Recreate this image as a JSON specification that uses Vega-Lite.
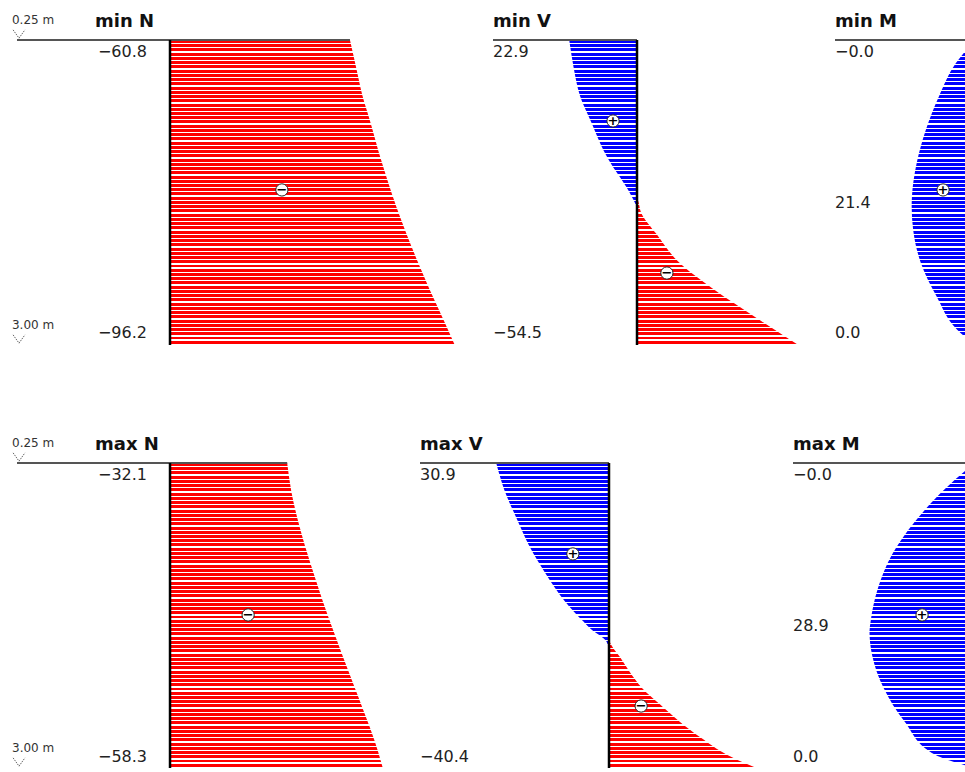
{
"$schema": "https://vega.github.io/schema/vega-lite/v6.json",
"padding": 0,
"background": "white",
"spacing": 0,
"datasets": {
"minN": [{"m":0.25,"v":-60.8},{"m":0.5,"v":-62.9},{"m":0.75,"v":-65.0},{"m":1.0,"v":-67.8},{"m":1.25,"v":-70.4},{"m":1.5,"v":-73.3},{"m":1.75,"v":-76.4},{"m":2.0,"v":-79.9},{"m":2.25,"v":-83.7},{"m":2.5,"v":-87.7},{"m":2.75,"v":-92.0},{"m":3.0,"v":-96.2}],
"minV": [{"part":"pos","m":0.25,"v":22.9},{"part":"pos","m":0.5,"v":21.4},{"part":"pos","m":0.75,"v":19.3},{"part":"pos","m":1.0,"v":15.3},{"part":"pos","m":1.25,"v":11.2},{"part":"pos","m":1.4,"v":8.0},{"part":"pos","m":1.5,"v":5.4},{"part":"pos","m":1.66,"v":1.8},{"part":"pos","m":1.78,"v":0},{"part":"pos","m":3.0,"v":0},
{"part":"neg","m":0.25,"v":0},{"part":"neg","m":1.64,"v":0},{"part":"neg","m":1.72,"v":-0.6},{"part":"neg","m":1.8,"v":-1.3},{"part":"neg","m":2.0,"v":-6.6},{"part":"neg","m":2.25,"v":-14.0},{"part":"neg","m":2.5,"v":-26.0},{"part":"neg","m":2.75,"v":-40.0},{"part":"neg","m":3.0,"v":-54.5}],
"minM": [{"m":0.25,"v":0},{"m":0.46,"v":6.5},{"m":0.76,"v":12.2},{"m":1.06,"v":16.6},{"m":1.36,"v":19.7},{"m":1.66,"v":21.3},{"m":1.75,"v":21.4},{"m":1.96,"v":20.9},{"m":2.26,"v":18.3},{"m":2.56,"v":13.0},{"m":2.86,"v":6.1},{"m":3.0,"v":0}],
"maxN": [{"m":0.25,"v":-32.1},{"m":0.5,"v":-33.2},{"m":0.75,"v":-34.9},{"m":1.0,"v":-37.0},{"m":1.25,"v":-39.4},{"m":1.5,"v":-41.9},{"m":1.75,"v":-44.6},{"m":2.0,"v":-47.4},{"m":2.25,"v":-50.3},{"m":2.5,"v":-53.2},{"m":2.75,"v":-56.0},{"m":3.0,"v":-58.3}],
"maxV": [{"part":"pos","m":0.25,"v":30.9},{"part":"pos","m":0.5,"v":28.6},{"part":"pos","m":0.75,"v":25.3},{"part":"pos","m":1.0,"v":21.8},{"part":"pos","m":1.25,"v":17.3},{"part":"pos","m":1.5,"v":12.0},{"part":"pos","m":1.68,"v":7.0},{"part":"pos","m":1.75,"v":4.9},{"part":"pos","m":1.86,"v":0.7},{"part":"pos","m":1.95,"v":0},{"part":"pos","m":3.0,"v":0},
{"part":"neg","m":0.25,"v":0},{"part":"neg","m":1.84,"v":0},{"part":"neg","m":1.9,"v":-0.8},{"part":"neg","m":2.0,"v":-3.0},{"part":"neg","m":2.13,"v":-5.6},{"part":"neg","m":2.28,"v":-9.1},{"part":"neg","m":2.43,"v":-14.1},{"part":"neg","m":2.58,"v":-19.3},{"part":"neg","m":2.73,"v":-25.3},{"part":"neg","m":2.88,"v":-32.3},{"part":"neg","m":3.0,"v":-40.4}],
"maxM": [{"m":0.25,"v":0},{"m":0.32,"v":2.7},{"m":0.48,"v":8.1},{"m":0.78,"v":16.5},{"m":1.08,"v":22.8},{"m":1.38,"v":26.6},{"m":1.68,"v":28.6},{"m":1.77,"v":28.9},{"m":1.98,"v":28.2},{"m":2.28,"v":25.0},{"m":2.58,"v":19.3},{"m":2.88,"v":10.9},{"m":2.975,"v":2.7},{"m":3.0,"v":0}],
"labels": [{"panel":"minN","at":"top","m":0.25,"text":"−60.8"},{"panel":"minN","at":"bottom","m":3.0,"text":"−96.2"},
{"panel":"minV","at":"top","m":0.25,"text":"22.9"},{"panel":"minV","at":"bottom","m":3.0,"text":"−54.5"},
{"panel":"minM","at":"top","m":0.25,"text":"−0.0"},{"panel":"minM","at":"max","m":1.72,"text":"21.4"},{"panel":"minM","at":"bottom","m":3.0,"text":"0.0"},
{"panel":"maxN","at":"top","m":0.25,"text":"−32.1"},{"panel":"maxN","at":"bottom","m":3.0,"text":"−58.3"},
{"panel":"maxV","at":"top","m":0.25,"text":"30.9"},{"panel":"maxV","at":"bottom","m":3.0,"text":"−40.4"},
{"panel":"maxM","at":"top","m":0.25,"text":"−0.0"},{"panel":"maxM","at":"max","m":1.72,"text":"28.9"},{"panel":"maxM","at":"bottom","m":3.0,"text":"0.0"}],
"signs": [{"panel":"minN","m":1.602,"v":-37.8,"sign":"−"},{"panel":"minV","m":0.98,"v":8.1,"sign":"+"},{"panel":"minV","m":2.351,"v":-10.1,"sign":"−"},{"panel":"minM","m":1.602,"v":10.8,"sign":"+"},
{"panel":"maxN","m":1.62,"v":-21.4,"sign":"−"},{"panel":"maxV","m":1.07,"v":9.9,"sign":"+"},{"panel":"maxV","m":2.441,"v":-8.8,"sign":"−"},{"panel":"maxM","m":1.62,"v":14.5,"sign":"+"}],
"titles": [{"panel":"minN","text":"min N"},{"panel":"minV","text":"min V"},{"panel":"minM","text":"min M"},{"panel":"maxN","text":"max N"},{"panel":"maxV","text":"max V"},{"panel":"maxM","text":"max M"}],
"levels": [{"m":0.25,"text":"0.25 m"},{"m":3.0,"text":"3.00 m"}]
},
"vconcat": [
{"hconcat": [
{"width": 493, "height": 423, "layer": [
{"data":{"name":"minN"},"mark":{"type":"area","orient":"horizontal","style":"redhatch","interpolate":"monotone"},
 "encoding":{"x":{"field":"v","type":"quantitative","scale":{"domain":[-109.12,57.43],"reverse":true,"nice":false,"zero":false}},"x2":{"datum":0},
 "y":{"field":"m","type":"quantitative","scale":{"domain":[-0.11066,3.70328],"reverse":true,"nice":false,"zero":false}}}},
{"data":{"values":[{}]},"mark":{"type":"rule","color":"#555","strokeWidth":2},"encoding":{"x":{"datum":51.69},"x2":{"datum":-60.8},"y":{"datum":0.25}}},
{"data":{"values":[{}]},"mark":{"type":"rule","color":"#000","strokeWidth":2.5},"encoding":{"x":{"datum":0},"y":{"datum":0.25},"y2":{"datum":3.0}}},
{"data":{"name":"labels"},"transform":[{"filter":"datum.panel==='minN' && datum.at==='top'"}],"mark":{"type":"text","align":"right","baseline":"alphabetic","dx":-23,"dy":17,"fontSize":16,"color":"#222"},"encoding":{"x":{"datum":0},"y":{"field":"m","type":"quantitative"},"text":{"field":"text"}}},
{"data":{"name":"labels"},"transform":[{"filter":"datum.panel==='minN' && datum.at==='bottom'"}],"mark":{"type":"text","align":"right","baseline":"alphabetic","dx":-23,"dy":-6.5,"fontSize":16,"color":"#222"},"encoding":{"x":{"datum":0},"y":{"field":"m","type":"quantitative"},"text":{"field":"text"}}},
{"data":{"name":"signs"},"transform":[{"filter":"datum.panel==='minN'"}],"mark":{"type":"point","shape":"circle","filled":true,"fill":"#fff","stroke":"#222","strokeWidth":1,"size":150,"opacity":1},"encoding":{"x":{"field":"v","type":"quantitative"},"y":{"field":"m","type":"quantitative"}}},
{"data":{"name":"signs"},"transform":[{"filter":"datum.panel==='minN'"}],"mark":{"type":"text","align":"center","baseline":"middle","fontSize":13,"fontWeight":"bold","color":"#000"},"encoding":{"x":{"field":"v","type":"quantitative"},"y":{"field":"m","type":"quantitative"},"text":{"field":"sign"}}},
{"data":{"name":"titles"},"transform":[{"filter":"datum.panel==='minN'"}],"mark":{"type":"text","align":"left","baseline":"alphabetic","dy":-13,"fontSize":18,"fontWeight":"bold","color":"#111"},"encoding":{"x":{"datum":25.34},"y":{"datum":0.25},"text":{"field":"text"}}},
{"data":{"name":"levels"},"mark":{"type":"text","align":"left","baseline":"middle","dy":-20,"fontSize":12,"color":"#333"},"encoding":{"x":{"datum":53.38},"y":{"field":"m","type":"quantitative"},"text":{"field":"text"}}},
{"data":{"name":"levels"},"mark":{"type":"point","shape":"M-1,-0.7L0,0.7L1,-0.7","filled":false,"stroke":"#666","strokeWidth":1,"strokeDash":[1.5,1],"size":140,"yOffset":-6,"opacity":1},"encoding":{"x":{"datum":51.01},"y":{"field":"m","type":"quantitative"}}}
]},
{"width": 342, "height": 423, "layer": [
{"data":{"name":"minV"},"transform":[{"filter":"datum.part==='neg'"}],"mark":{"type":"area","orient":"horizontal","style":"redhatch","interpolate":"monotone"},
 "encoding":{"x":{"field":"v","type":"quantitative","scale":{"domain":[-66.89,48.65],"reverse":true,"nice":false,"zero":false}},"x2":{"datum":0},
 "y":{"field":"m","type":"quantitative","scale":{"domain":[-0.11066,3.70328],"reverse":true,"nice":false,"zero":false}}}},
{"data":{"name":"minV"},"transform":[{"filter":"datum.part==='pos'"}],"mark":{"type":"area","orient":"horizontal","style":"bluehatch","interpolate":"monotone"},
 "encoding":{"x":{"field":"v","type":"quantitative"},"x2":{"datum":0},"y":{"field":"m","type":"quantitative"}}},
{"data":{"values":[{}]},"mark":{"type":"rule","color":"#555","strokeWidth":2},"encoding":{"x":{"datum":48.65},"x2":{"datum":0},"y":{"datum":0.25}}},
{"data":{"values":[{}]},"mark":{"type":"rule","color":"#000","strokeWidth":2.5},"encoding":{"x":{"datum":0},"y":{"datum":0.25},"y2":{"datum":3.0}}},
{"data":{"name":"labels"},"transform":[{"filter":"datum.panel==='minV' && datum.at==='top'"}],"mark":{"type":"text","align":"left","baseline":"alphabetic","dy":17,"fontSize":16,"color":"#222"},"encoding":{"x":{"datum":48.65},"y":{"field":"m","type":"quantitative"},"text":{"field":"text"}}},
{"data":{"name":"labels"},"transform":[{"filter":"datum.panel==='minV' && datum.at==='bottom'"}],"mark":{"type":"text","align":"left","baseline":"alphabetic","dy":-6.5,"fontSize":16,"color":"#222"},"encoding":{"x":{"datum":48.65},"y":{"field":"m","type":"quantitative"},"text":{"field":"text"}}},
{"data":{"name":"signs"},"transform":[{"filter":"datum.panel==='minV'"}],"mark":{"type":"point","shape":"circle","filled":true,"fill":"#fff","stroke":"#222","strokeWidth":1,"size":150,"opacity":1},"encoding":{"x":{"field":"v","type":"quantitative"},"y":{"field":"m","type":"quantitative"}}},
{"data":{"name":"signs"},"transform":[{"filter":"datum.panel==='minV'"}],"mark":{"type":"text","align":"center","baseline":"middle","fontSize":13,"fontWeight":"bold","color":"#000"},"encoding":{"x":{"field":"v","type":"quantitative"},"y":{"field":"m","type":"quantitative"},"text":{"field":"sign"}}},
{"data":{"name":"titles"},"transform":[{"filter":"datum.panel==='minV'"}],"mark":{"type":"text","align":"left","baseline":"alphabetic","dy":-13,"fontSize":18,"fontWeight":"bold","color":"#111"},"encoding":{"x":{"datum":48.65},"y":{"datum":0.25},"text":{"field":"text"}}}
]},
{"width": 130, "height": 423, "layer": [
{"data":{"name":"minM"},"mark":{"type":"area","orient":"horizontal","style":"bluehatch","interpolate":"monotone","clip":true},
 "encoding":{"x":{"field":"v","type":"quantitative","scale":{"domain":[3.378,47.3],"reverse":true,"nice":false,"zero":false}},"x2":{"datum":0},
 "y":{"field":"m","type":"quantitative","scale":{"domain":[-0.11066,3.70328],"reverse":true,"nice":false,"zero":false}}}},
{"data":{"values":[{}]},"mark":{"type":"rule","color":"#555","strokeWidth":2},"encoding":{"x":{"datum":47.3},"x2":{"datum":3.378},"y":{"datum":0.25}}},
{"data":{"name":"labels"},"transform":[{"filter":"datum.panel==='minM' && datum.at==='top'"}],"mark":{"type":"text","align":"left","baseline":"alphabetic","dy":17,"fontSize":16,"color":"#222"},"encoding":{"x":{"datum":47.3},"y":{"field":"m","type":"quantitative"},"text":{"field":"text"}}},
{"data":{"name":"labels"},"transform":[{"filter":"datum.panel==='minM' && datum.at==='max'"}],"mark":{"type":"text","align":"left","baseline":"middle","fontSize":16,"color":"#222"},"encoding":{"x":{"datum":47.3},"y":{"field":"m","type":"quantitative"},"text":{"field":"text"}}},
{"data":{"name":"labels"},"transform":[{"filter":"datum.panel==='minM' && datum.at==='bottom'"}],"mark":{"type":"text","align":"left","baseline":"alphabetic","dy":-6.5,"fontSize":16,"color":"#222"},"encoding":{"x":{"datum":47.3},"y":{"field":"m","type":"quantitative"},"text":{"field":"text"}}},
{"data":{"name":"signs"},"transform":[{"filter":"datum.panel==='minM'"}],"mark":{"type":"point","shape":"circle","filled":true,"fill":"#fff","stroke":"#222","strokeWidth":1,"size":150,"opacity":1},"encoding":{"x":{"field":"v","type":"quantitative"},"y":{"field":"m","type":"quantitative"}}},
{"data":{"name":"signs"},"transform":[{"filter":"datum.panel==='minM'"}],"mark":{"type":"text","align":"center","baseline":"middle","fontSize":13,"fontWeight":"bold","color":"#000"},"encoding":{"x":{"field":"v","type":"quantitative"},"y":{"field":"m","type":"quantitative"},"text":{"field":"sign"}}},
{"data":{"name":"titles"},"transform":[{"filter":"datum.panel==='minM'"}],"mark":{"type":"text","align":"left","baseline":"alphabetic","dy":-13,"fontSize":18,"fontWeight":"bold","color":"#111"},"encoding":{"x":{"datum":47.3},"y":{"datum":0.25},"text":{"field":"text"}}}
]}
], "spacing": 0, "bounds": "flush"},
{"hconcat": [
{"width": 420, "height": 349, "layer": [
{"data":{"name":"maxN"},"mark":{"type":"area","orient":"horizontal","style":"redhatch","interpolate":"monotone"},
 "encoding":{"x":{"field":"v","type":"quantitative","scale":{"domain":[-68.49,46.58],"reverse":true,"nice":false,"zero":false}},"x2":{"datum":0},
 "y":{"field":"m","type":"quantitative","scale":{"domain":[-0.11066,3.03601],"reverse":true,"nice":false,"zero":false}}}},
{"data":{"values":[{}]},"mark":{"type":"rule","color":"#555","strokeWidth":2},"encoding":{"x":{"datum":41.92},"x2":{"datum":-32.1},"y":{"datum":0.25}}},
{"data":{"values":[{}]},"mark":{"type":"rule","color":"#000","strokeWidth":2.5},"encoding":{"x":{"datum":0},"y":{"datum":0.25},"y2":{"datum":3.0}}},
{"data":{"name":"labels"},"transform":[{"filter":"datum.panel==='maxN' && datum.at==='top'"}],"mark":{"type":"text","align":"right","baseline":"alphabetic","dx":-23,"dy":17,"fontSize":16,"color":"#222"},"encoding":{"x":{"datum":0},"y":{"field":"m","type":"quantitative"},"text":{"field":"text"}}},
{"data":{"name":"labels"},"transform":[{"filter":"datum.panel==='maxN' && datum.at==='bottom'"}],"mark":{"type":"text","align":"right","baseline":"alphabetic","dx":-23,"dy":-6.5,"fontSize":16,"color":"#222"},"encoding":{"x":{"datum":0},"y":{"field":"m","type":"quantitative"},"text":{"field":"text"}}},
{"data":{"name":"signs"},"transform":[{"filter":"datum.panel==='maxN'"}],"mark":{"type":"point","shape":"circle","filled":true,"fill":"#fff","stroke":"#222","strokeWidth":1,"size":150,"opacity":1},"encoding":{"x":{"field":"v","type":"quantitative"},"y":{"field":"m","type":"quantitative"}}},
{"data":{"name":"signs"},"transform":[{"filter":"datum.panel==='maxN'"}],"mark":{"type":"text","align":"center","baseline":"middle","fontSize":13,"fontWeight":"bold","color":"#000"},"encoding":{"x":{"field":"v","type":"quantitative"},"y":{"field":"m","type":"quantitative"},"text":{"field":"sign"}}},
{"data":{"name":"titles"},"transform":[{"filter":"datum.panel==='maxN'"}],"mark":{"type":"text","align":"left","baseline":"alphabetic","dy":-13,"fontSize":18,"fontWeight":"bold","color":"#111"},"encoding":{"x":{"datum":20.55},"y":{"datum":0.25},"text":{"field":"text"}}},
{"data":{"name":"levels"},"mark":{"type":"text","align":"left","baseline":"middle","dy":-20,"fontSize":12,"color":"#333"},"encoding":{"x":{"datum":43.29},"y":{"field":"m","type":"quantitative"},"text":{"field":"text"}}},
{"data":{"name":"levels"},"mark":{"type":"point","shape":"M-1,-0.7L0,0.7L1,-0.7","filled":false,"stroke":"#666","strokeWidth":1,"strokeDash":[1.5,1],"size":140,"yOffset":-6,"opacity":1},"encoding":{"x":{"datum":41.37},"y":{"field":"m","type":"quantitative"}}}
]},
{"width": 373, "height": 349, "layer": [
{"data":{"name":"maxV"},"transform":[{"filter":"datum.part==='neg'"}],"mark":{"type":"area","orient":"horizontal","style":"redhatch","interpolate":"monotone"},
 "encoding":{"x":{"field":"v","type":"quantitative","scale":{"domain":[-50.41,51.78],"reverse":true,"nice":false,"zero":false}},"x2":{"datum":0},
 "y":{"field":"m","type":"quantitative","scale":{"domain":[-0.11066,3.03601],"reverse":true,"nice":false,"zero":false}}}},
{"data":{"name":"maxV"},"transform":[{"filter":"datum.part==='pos'"}],"mark":{"type":"area","orient":"horizontal","style":"bluehatch","interpolate":"monotone"},
 "encoding":{"x":{"field":"v","type":"quantitative"},"x2":{"datum":0},"y":{"field":"m","type":"quantitative"}}},
{"data":{"values":[{}]},"mark":{"type":"rule","color":"#555","strokeWidth":2},"encoding":{"x":{"datum":51.78},"x2":{"datum":0},"y":{"datum":0.25}}},
{"data":{"values":[{}]},"mark":{"type":"rule","color":"#000","strokeWidth":2.5},"encoding":{"x":{"datum":0},"y":{"datum":0.25},"y2":{"datum":3.0}}},
{"data":{"name":"labels"},"transform":[{"filter":"datum.panel==='maxV' && datum.at==='top'"}],"mark":{"type":"text","align":"left","baseline":"alphabetic","dy":17,"fontSize":16,"color":"#222"},"encoding":{"x":{"datum":51.78},"y":{"field":"m","type":"quantitative"},"text":{"field":"text"}}},
{"data":{"name":"labels"},"transform":[{"filter":"datum.panel==='maxV' && datum.at==='bottom'"}],"mark":{"type":"text","align":"left","baseline":"alphabetic","dy":-6.5,"fontSize":16,"color":"#222"},"encoding":{"x":{"datum":51.78},"y":{"field":"m","type":"quantitative"},"text":{"field":"text"}}},
{"data":{"name":"signs"},"transform":[{"filter":"datum.panel==='maxV'"}],"mark":{"type":"point","shape":"circle","filled":true,"fill":"#fff","stroke":"#222","strokeWidth":1,"size":150,"opacity":1},"encoding":{"x":{"field":"v","type":"quantitative"},"y":{"field":"m","type":"quantitative"}}},
{"data":{"name":"signs"},"transform":[{"filter":"datum.panel==='maxV'"}],"mark":{"type":"text","align":"center","baseline":"middle","fontSize":13,"fontWeight":"bold","color":"#000"},"encoding":{"x":{"field":"v","type":"quantitative"},"y":{"field":"m","type":"quantitative"},"text":{"field":"sign"}}},
{"data":{"name":"titles"},"transform":[{"filter":"datum.panel==='maxV'"}],"mark":{"type":"text","align":"left","baseline":"alphabetic","dy":-13,"fontSize":18,"fontWeight":"bold","color":"#111"},"encoding":{"x":{"datum":51.78},"y":{"datum":0.25},"text":{"field":"text"}}}
]},
{"width": 172, "height": 349, "layer": [
{"data":{"name":"maxM"},"mark":{"type":"area","orient":"horizontal","style":"bluehatch","interpolate":"monotone","clip":true},
 "encoding":{"x":{"field":"v","type":"quantitative","scale":{"domain":[2.74,49.86],"reverse":true,"nice":false,"zero":false}},"x2":{"datum":0},
 "y":{"field":"m","type":"quantitative","scale":{"domain":[-0.11066,3.03601],"reverse":true,"nice":false,"zero":false}}}},
{"data":{"values":[{}]},"mark":{"type":"rule","color":"#555","strokeWidth":2},"encoding":{"x":{"datum":49.86},"x2":{"datum":2.74},"y":{"datum":0.25}}},
{"data":{"name":"labels"},"transform":[{"filter":"datum.panel==='maxM' && datum.at==='top'"}],"mark":{"type":"text","align":"left","baseline":"alphabetic","dy":17,"fontSize":16,"color":"#222"},"encoding":{"x":{"datum":49.86},"y":{"field":"m","type":"quantitative"},"text":{"field":"text"}}},
{"data":{"name":"labels"},"transform":[{"filter":"datum.panel==='maxM' && datum.at==='max'"}],"mark":{"type":"text","align":"left","baseline":"middle","fontSize":16,"color":"#222"},"encoding":{"x":{"datum":49.86},"y":{"field":"m","type":"quantitative"},"text":{"field":"text"}}},
{"data":{"name":"labels"},"transform":[{"filter":"datum.panel==='maxM' && datum.at==='bottom'"}],"mark":{"type":"text","align":"left","baseline":"alphabetic","dy":-6.5,"fontSize":16,"color":"#222"},"encoding":{"x":{"datum":49.86},"y":{"field":"m","type":"quantitative"},"text":{"field":"text"}}},
{"data":{"name":"signs"},"transform":[{"filter":"datum.panel==='maxM'"}],"mark":{"type":"point","shape":"circle","filled":true,"fill":"#fff","stroke":"#222","strokeWidth":1,"size":150,"opacity":1},"encoding":{"x":{"field":"v","type":"quantitative"},"y":{"field":"m","type":"quantitative"}}},
{"data":{"name":"signs"},"transform":[{"filter":"datum.panel==='maxM'"}],"mark":{"type":"text","align":"center","baseline":"middle","fontSize":13,"fontWeight":"bold","color":"#000"},"encoding":{"x":{"field":"v","type":"quantitative"},"y":{"field":"m","type":"quantitative"},"text":{"field":"sign"}}},
{"data":{"name":"titles"},"transform":[{"filter":"datum.panel==='maxM'"}],"mark":{"type":"text","align":"left","baseline":"alphabetic","dy":-13,"fontSize":18,"fontWeight":"bold","color":"#111"},"encoding":{"x":{"datum":49.86},"y":{"datum":0.25},"text":{"field":"text"}}}
]}
], "spacing": 0, "bounds": "flush"}
],
"resolve": {"scale": {"x": "independent", "y": "independent"}},
"config": {
"font": "DejaVu Sans",
"view": {"stroke": null},
"axis": {"disable": true},
"legend": {"disable": true},
"style": {
"redhatch": {"color": {"gradient":"linear","x1":0,"y1":0,"x2":0,"y2":1,"stops":[
{"offset":0,"color":"#f00"},{"offset":0.0097,"color":"#f00"},{"offset":0.0097,"color":"#fff"},{"offset":0.0139,"color":"#fff"},
{"offset":0.0139,"color":"#f00"},{"offset":0.0236,"color":"#f00"},{"offset":0.0236,"color":"#fff"},{"offset":0.0278,"color":"#fff"},
{"offset":0.0278,"color":"#f00"},{"offset":0.0375,"color":"#f00"},{"offset":0.0375,"color":"#fff"},{"offset":0.0417,"color":"#fff"},
{"offset":0.0417,"color":"#f00"},{"offset":0.0514,"color":"#f00"},{"offset":0.0514,"color":"#fff"},{"offset":0.0556,"color":"#fff"},
{"offset":0.0556,"color":"#f00"},{"offset":0.0653,"color":"#f00"},{"offset":0.0653,"color":"#fff"},{"offset":0.0694,"color":"#fff"},
{"offset":0.0694,"color":"#f00"},{"offset":0.0792,"color":"#f00"},{"offset":0.0792,"color":"#fff"},{"offset":0.0833,"color":"#fff"},
{"offset":0.0833,"color":"#f00"},{"offset":0.0931,"color":"#f00"},{"offset":0.0931,"color":"#fff"},{"offset":0.0972,"color":"#fff"},
{"offset":0.0972,"color":"#f00"},{"offset":0.1069,"color":"#f00"},{"offset":0.1069,"color":"#fff"},{"offset":0.1111,"color":"#fff"},
{"offset":0.1111,"color":"#f00"},{"offset":0.1208,"color":"#f00"},{"offset":0.1208,"color":"#fff"},{"offset":0.125,"color":"#fff"},
{"offset":0.125,"color":"#f00"},{"offset":0.1347,"color":"#f00"},{"offset":0.1347,"color":"#fff"},{"offset":0.1389,"color":"#fff"},
{"offset":0.1389,"color":"#f00"},{"offset":0.1486,"color":"#f00"},{"offset":0.1486,"color":"#fff"},{"offset":0.1528,"color":"#fff"},
{"offset":0.1528,"color":"#f00"},{"offset":0.1625,"color":"#f00"},{"offset":0.1625,"color":"#fff"},{"offset":0.1667,"color":"#fff"},
{"offset":0.1667,"color":"#f00"},{"offset":0.1764,"color":"#f00"},{"offset":0.1764,"color":"#fff"},{"offset":0.1806,"color":"#fff"},
{"offset":0.1806,"color":"#f00"},{"offset":0.1903,"color":"#f00"},{"offset":0.1903,"color":"#fff"},{"offset":0.1944,"color":"#fff"},
{"offset":0.1944,"color":"#f00"},{"offset":0.2042,"color":"#f00"},{"offset":0.2042,"color":"#fff"},{"offset":0.2083,"color":"#fff"},
{"offset":0.2083,"color":"#f00"},{"offset":0.2181,"color":"#f00"},{"offset":0.2181,"color":"#fff"},{"offset":0.2222,"color":"#fff"},
{"offset":0.2222,"color":"#f00"},{"offset":0.2319,"color":"#f00"},{"offset":0.2319,"color":"#fff"},{"offset":0.2361,"color":"#fff"},
{"offset":0.2361,"color":"#f00"},{"offset":0.2458,"color":"#f00"},{"offset":0.2458,"color":"#fff"},{"offset":0.25,"color":"#fff"},
{"offset":0.25,"color":"#f00"},{"offset":0.2597,"color":"#f00"},{"offset":0.2597,"color":"#fff"},{"offset":0.2639,"color":"#fff"},
{"offset":0.2639,"color":"#f00"},{"offset":0.2736,"color":"#f00"},{"offset":0.2736,"color":"#fff"},{"offset":0.2778,"color":"#fff"},
{"offset":0.2778,"color":"#f00"},{"offset":0.2875,"color":"#f00"},{"offset":0.2875,"color":"#fff"},{"offset":0.2917,"color":"#fff"},
{"offset":0.2917,"color":"#f00"},{"offset":0.3014,"color":"#f00"},{"offset":0.3014,"color":"#fff"},{"offset":0.3056,"color":"#fff"},
{"offset":0.3056,"color":"#f00"},{"offset":0.3153,"color":"#f00"},{"offset":0.3153,"color":"#fff"},{"offset":0.3194,"color":"#fff"},
{"offset":0.3194,"color":"#f00"},{"offset":0.3292,"color":"#f00"},{"offset":0.3292,"color":"#fff"},{"offset":0.3333,"color":"#fff"},
{"offset":0.3333,"color":"#f00"},{"offset":0.3431,"color":"#f00"},{"offset":0.3431,"color":"#fff"},{"offset":0.3472,"color":"#fff"},
{"offset":0.3472,"color":"#f00"},{"offset":0.3569,"color":"#f00"},{"offset":0.3569,"color":"#fff"},{"offset":0.3611,"color":"#fff"},
{"offset":0.3611,"color":"#f00"},{"offset":0.3708,"color":"#f00"},{"offset":0.3708,"color":"#fff"},{"offset":0.375,"color":"#fff"},
{"offset":0.375,"color":"#f00"},{"offset":0.3847,"color":"#f00"},{"offset":0.3847,"color":"#fff"},{"offset":0.3889,"color":"#fff"},
{"offset":0.3889,"color":"#f00"},{"offset":0.3986,"color":"#f00"},{"offset":0.3986,"color":"#fff"},{"offset":0.4028,"color":"#fff"},
{"offset":0.4028,"color":"#f00"},{"offset":0.4125,"color":"#f00"},{"offset":0.4125,"color":"#fff"},{"offset":0.4167,"color":"#fff"},
{"offset":0.4167,"color":"#f00"},{"offset":0.4264,"color":"#f00"},{"offset":0.4264,"color":"#fff"},{"offset":0.4306,"color":"#fff"},
{"offset":0.4306,"color":"#f00"},{"offset":0.4403,"color":"#f00"},{"offset":0.4403,"color":"#fff"},{"offset":0.4444,"color":"#fff"},
{"offset":0.4444,"color":"#f00"},{"offset":0.4542,"color":"#f00"},{"offset":0.4542,"color":"#fff"},{"offset":0.4583,"color":"#fff"},
{"offset":0.4583,"color":"#f00"},{"offset":0.4681,"color":"#f00"},{"offset":0.4681,"color":"#fff"},{"offset":0.4722,"color":"#fff"},
{"offset":0.4722,"color":"#f00"},{"offset":0.4819,"color":"#f00"},{"offset":0.4819,"color":"#fff"},{"offset":0.4861,"color":"#fff"},
{"offset":0.4861,"color":"#f00"},{"offset":0.4958,"color":"#f00"},{"offset":0.4958,"color":"#fff"},{"offset":0.5,"color":"#fff"},
{"offset":0.5,"color":"#f00"},{"offset":0.5097,"color":"#f00"},{"offset":0.5097,"color":"#fff"},{"offset":0.5139,"color":"#fff"},
{"offset":0.5139,"color":"#f00"},{"offset":0.5236,"color":"#f00"},{"offset":0.5236,"color":"#fff"},{"offset":0.5278,"color":"#fff"},
{"offset":0.5278,"color":"#f00"},{"offset":0.5375,"color":"#f00"},{"offset":0.5375,"color":"#fff"},{"offset":0.5417,"color":"#fff"},
{"offset":0.5417,"color":"#f00"},{"offset":0.5514,"color":"#f00"},{"offset":0.5514,"color":"#fff"},{"offset":0.5556,"color":"#fff"},
{"offset":0.5556,"color":"#f00"},{"offset":0.5653,"color":"#f00"},{"offset":0.5653,"color":"#fff"},{"offset":0.5694,"color":"#fff"},
{"offset":0.5694,"color":"#f00"},{"offset":0.5792,"color":"#f00"},{"offset":0.5792,"color":"#fff"},{"offset":0.5833,"color":"#fff"},
{"offset":0.5833,"color":"#f00"},{"offset":0.5931,"color":"#f00"},{"offset":0.5931,"color":"#fff"},{"offset":0.5972,"color":"#fff"},
{"offset":0.5972,"color":"#f00"},{"offset":0.6069,"color":"#f00"},{"offset":0.6069,"color":"#fff"},{"offset":0.6111,"color":"#fff"},
{"offset":0.6111,"color":"#f00"},{"offset":0.6208,"color":"#f00"},{"offset":0.6208,"color":"#fff"},{"offset":0.625,"color":"#fff"},
{"offset":0.625,"color":"#f00"},{"offset":0.6347,"color":"#f00"},{"offset":0.6347,"color":"#fff"},{"offset":0.6389,"color":"#fff"},
{"offset":0.6389,"color":"#f00"},{"offset":0.6486,"color":"#f00"},{"offset":0.6486,"color":"#fff"},{"offset":0.6528,"color":"#fff"},
{"offset":0.6528,"color":"#f00"},{"offset":0.6625,"color":"#f00"},{"offset":0.6625,"color":"#fff"},{"offset":0.6667,"color":"#fff"},
{"offset":0.6667,"color":"#f00"},{"offset":0.6764,"color":"#f00"},{"offset":0.6764,"color":"#fff"},{"offset":0.6806,"color":"#fff"},
{"offset":0.6806,"color":"#f00"},{"offset":0.6903,"color":"#f00"},{"offset":0.6903,"color":"#fff"},{"offset":0.6944,"color":"#fff"},
{"offset":0.6944,"color":"#f00"},{"offset":0.7042,"color":"#f00"},{"offset":0.7042,"color":"#fff"},{"offset":0.7083,"color":"#fff"},
{"offset":0.7083,"color":"#f00"},{"offset":0.7181,"color":"#f00"},{"offset":0.7181,"color":"#fff"},{"offset":0.7222,"color":"#fff"},
{"offset":0.7222,"color":"#f00"},{"offset":0.7319,"color":"#f00"},{"offset":0.7319,"color":"#fff"},{"offset":0.7361,"color":"#fff"},
{"offset":0.7361,"color":"#f00"},{"offset":0.7458,"color":"#f00"},{"offset":0.7458,"color":"#fff"},{"offset":0.75,"color":"#fff"},
{"offset":0.75,"color":"#f00"},{"offset":0.7597,"color":"#f00"},{"offset":0.7597,"color":"#fff"},{"offset":0.7639,"color":"#fff"},
{"offset":0.7639,"color":"#f00"},{"offset":0.7736,"color":"#f00"},{"offset":0.7736,"color":"#fff"},{"offset":0.7778,"color":"#fff"},
{"offset":0.7778,"color":"#f00"},{"offset":0.7875,"color":"#f00"},{"offset":0.7875,"color":"#fff"},{"offset":0.7917,"color":"#fff"},
{"offset":0.7917,"color":"#f00"},{"offset":0.8014,"color":"#f00"},{"offset":0.8014,"color":"#fff"},{"offset":0.8056,"color":"#fff"},
{"offset":0.8056,"color":"#f00"},{"offset":0.8153,"color":"#f00"},{"offset":0.8153,"color":"#fff"},{"offset":0.8194,"color":"#fff"},
{"offset":0.8194,"color":"#f00"},{"offset":0.8292,"color":"#f00"},{"offset":0.8292,"color":"#fff"},{"offset":0.8333,"color":"#fff"},
{"offset":0.8333,"color":"#f00"},{"offset":0.8431,"color":"#f00"},{"offset":0.8431,"color":"#fff"},{"offset":0.8472,"color":"#fff"},
{"offset":0.8472,"color":"#f00"},{"offset":0.8569,"color":"#f00"},{"offset":0.8569,"color":"#fff"},{"offset":0.8611,"color":"#fff"},
{"offset":0.8611,"color":"#f00"},{"offset":0.8708,"color":"#f00"},{"offset":0.8708,"color":"#fff"},{"offset":0.875,"color":"#fff"},
{"offset":0.875,"color":"#f00"},{"offset":0.8847,"color":"#f00"},{"offset":0.8847,"color":"#fff"},{"offset":0.8889,"color":"#fff"},
{"offset":0.8889,"color":"#f00"},{"offset":0.8986,"color":"#f00"},{"offset":0.8986,"color":"#fff"},{"offset":0.9028,"color":"#fff"},
{"offset":0.9028,"color":"#f00"},{"offset":0.9125,"color":"#f00"},{"offset":0.9125,"color":"#fff"},{"offset":0.9167,"color":"#fff"},
{"offset":0.9167,"color":"#f00"},{"offset":0.9264,"color":"#f00"},{"offset":0.9264,"color":"#fff"},{"offset":0.9306,"color":"#fff"},
{"offset":0.9306,"color":"#f00"},{"offset":0.9403,"color":"#f00"},{"offset":0.9403,"color":"#fff"},{"offset":0.9444,"color":"#fff"},
{"offset":0.9444,"color":"#f00"},{"offset":0.9542,"color":"#f00"},{"offset":0.9542,"color":"#fff"},{"offset":0.9583,"color":"#fff"},
{"offset":0.9583,"color":"#f00"},{"offset":0.9681,"color":"#f00"},{"offset":0.9681,"color":"#fff"},{"offset":0.9722,"color":"#fff"},
{"offset":0.9722,"color":"#f00"},{"offset":0.9819,"color":"#f00"},{"offset":0.9819,"color":"#fff"},{"offset":0.9861,"color":"#fff"},
{"offset":0.9861,"color":"#f00"},{"offset":0.9958,"color":"#f00"},{"offset":0.9958,"color":"#fff"},{"offset":1,"color":"#fff"}
]}},
"bluehatch": {"color": {"gradient":"linear","x1":0,"y1":0,"x2":0,"y2":1,"stops":[
{"offset":0,"color":"#00f"},{"offset":0.0097,"color":"#00f"},{"offset":0.0097,"color":"#fff"},{"offset":0.0139,"color":"#fff"},
{"offset":0.0139,"color":"#00f"},{"offset":0.0236,"color":"#00f"},{"offset":0.0236,"color":"#fff"},{"offset":0.0278,"color":"#fff"},
{"offset":0.0278,"color":"#00f"},{"offset":0.0375,"color":"#00f"},{"offset":0.0375,"color":"#fff"},{"offset":0.0417,"color":"#fff"},
{"offset":0.0417,"color":"#00f"},{"offset":0.0514,"color":"#00f"},{"offset":0.0514,"color":"#fff"},{"offset":0.0556,"color":"#fff"},
{"offset":0.0556,"color":"#00f"},{"offset":0.0653,"color":"#00f"},{"offset":0.0653,"color":"#fff"},{"offset":0.0694,"color":"#fff"},
{"offset":0.0694,"color":"#00f"},{"offset":0.0792,"color":"#00f"},{"offset":0.0792,"color":"#fff"},{"offset":0.0833,"color":"#fff"},
{"offset":0.0833,"color":"#00f"},{"offset":0.0931,"color":"#00f"},{"offset":0.0931,"color":"#fff"},{"offset":0.0972,"color":"#fff"},
{"offset":0.0972,"color":"#00f"},{"offset":0.1069,"color":"#00f"},{"offset":0.1069,"color":"#fff"},{"offset":0.1111,"color":"#fff"},
{"offset":0.1111,"color":"#00f"},{"offset":0.1208,"color":"#00f"},{"offset":0.1208,"color":"#fff"},{"offset":0.125,"color":"#fff"},
{"offset":0.125,"color":"#00f"},{"offset":0.1347,"color":"#00f"},{"offset":0.1347,"color":"#fff"},{"offset":0.1389,"color":"#fff"},
{"offset":0.1389,"color":"#00f"},{"offset":0.1486,"color":"#00f"},{"offset":0.1486,"color":"#fff"},{"offset":0.1528,"color":"#fff"},
{"offset":0.1528,"color":"#00f"},{"offset":0.1625,"color":"#00f"},{"offset":0.1625,"color":"#fff"},{"offset":0.1667,"color":"#fff"},
{"offset":0.1667,"color":"#00f"},{"offset":0.1764,"color":"#00f"},{"offset":0.1764,"color":"#fff"},{"offset":0.1806,"color":"#fff"},
{"offset":0.1806,"color":"#00f"},{"offset":0.1903,"color":"#00f"},{"offset":0.1903,"color":"#fff"},{"offset":0.1944,"color":"#fff"},
{"offset":0.1944,"color":"#00f"},{"offset":0.2042,"color":"#00f"},{"offset":0.2042,"color":"#fff"},{"offset":0.2083,"color":"#fff"},
{"offset":0.2083,"color":"#00f"},{"offset":0.2181,"color":"#00f"},{"offset":0.2181,"color":"#fff"},{"offset":0.2222,"color":"#fff"},
{"offset":0.2222,"color":"#00f"},{"offset":0.2319,"color":"#00f"},{"offset":0.2319,"color":"#fff"},{"offset":0.2361,"color":"#fff"},
{"offset":0.2361,"color":"#00f"},{"offset":0.2458,"color":"#00f"},{"offset":0.2458,"color":"#fff"},{"offset":0.25,"color":"#fff"},
{"offset":0.25,"color":"#00f"},{"offset":0.2597,"color":"#00f"},{"offset":0.2597,"color":"#fff"},{"offset":0.2639,"color":"#fff"},
{"offset":0.2639,"color":"#00f"},{"offset":0.2736,"color":"#00f"},{"offset":0.2736,"color":"#fff"},{"offset":0.2778,"color":"#fff"},
{"offset":0.2778,"color":"#00f"},{"offset":0.2875,"color":"#00f"},{"offset":0.2875,"color":"#fff"},{"offset":0.2917,"color":"#fff"},
{"offset":0.2917,"color":"#00f"},{"offset":0.3014,"color":"#00f"},{"offset":0.3014,"color":"#fff"},{"offset":0.3056,"color":"#fff"},
{"offset":0.3056,"color":"#00f"},{"offset":0.3153,"color":"#00f"},{"offset":0.3153,"color":"#fff"},{"offset":0.3194,"color":"#fff"},
{"offset":0.3194,"color":"#00f"},{"offset":0.3292,"color":"#00f"},{"offset":0.3292,"color":"#fff"},{"offset":0.3333,"color":"#fff"},
{"offset":0.3333,"color":"#00f"},{"offset":0.3431,"color":"#00f"},{"offset":0.3431,"color":"#fff"},{"offset":0.3472,"color":"#fff"},
{"offset":0.3472,"color":"#00f"},{"offset":0.3569,"color":"#00f"},{"offset":0.3569,"color":"#fff"},{"offset":0.3611,"color":"#fff"},
{"offset":0.3611,"color":"#00f"},{"offset":0.3708,"color":"#00f"},{"offset":0.3708,"color":"#fff"},{"offset":0.375,"color":"#fff"},
{"offset":0.375,"color":"#00f"},{"offset":0.3847,"color":"#00f"},{"offset":0.3847,"color":"#fff"},{"offset":0.3889,"color":"#fff"},
{"offset":0.3889,"color":"#00f"},{"offset":0.3986,"color":"#00f"},{"offset":0.3986,"color":"#fff"},{"offset":0.4028,"color":"#fff"},
{"offset":0.4028,"color":"#00f"},{"offset":0.4125,"color":"#00f"},{"offset":0.4125,"color":"#fff"},{"offset":0.4167,"color":"#fff"},
{"offset":0.4167,"color":"#00f"},{"offset":0.4264,"color":"#00f"},{"offset":0.4264,"color":"#fff"},{"offset":0.4306,"color":"#fff"},
{"offset":0.4306,"color":"#00f"},{"offset":0.4403,"color":"#00f"},{"offset":0.4403,"color":"#fff"},{"offset":0.4444,"color":"#fff"},
{"offset":0.4444,"color":"#00f"},{"offset":0.4542,"color":"#00f"},{"offset":0.4542,"color":"#fff"},{"offset":0.4583,"color":"#fff"},
{"offset":0.4583,"color":"#00f"},{"offset":0.4681,"color":"#00f"},{"offset":0.4681,"color":"#fff"},{"offset":0.4722,"color":"#fff"},
{"offset":0.4722,"color":"#00f"},{"offset":0.4819,"color":"#00f"},{"offset":0.4819,"color":"#fff"},{"offset":0.4861,"color":"#fff"},
{"offset":0.4861,"color":"#00f"},{"offset":0.4958,"color":"#00f"},{"offset":0.4958,"color":"#fff"},{"offset":0.5,"color":"#fff"},
{"offset":0.5,"color":"#00f"},{"offset":0.5097,"color":"#00f"},{"offset":0.5097,"color":"#fff"},{"offset":0.5139,"color":"#fff"},
{"offset":0.5139,"color":"#00f"},{"offset":0.5236,"color":"#00f"},{"offset":0.5236,"color":"#fff"},{"offset":0.5278,"color":"#fff"},
{"offset":0.5278,"color":"#00f"},{"offset":0.5375,"color":"#00f"},{"offset":0.5375,"color":"#fff"},{"offset":0.5417,"color":"#fff"},
{"offset":0.5417,"color":"#00f"},{"offset":0.5514,"color":"#00f"},{"offset":0.5514,"color":"#fff"},{"offset":0.5556,"color":"#fff"},
{"offset":0.5556,"color":"#00f"},{"offset":0.5653,"color":"#00f"},{"offset":0.5653,"color":"#fff"},{"offset":0.5694,"color":"#fff"},
{"offset":0.5694,"color":"#00f"},{"offset":0.5792,"color":"#00f"},{"offset":0.5792,"color":"#fff"},{"offset":0.5833,"color":"#fff"},
{"offset":0.5833,"color":"#00f"},{"offset":0.5931,"color":"#00f"},{"offset":0.5931,"color":"#fff"},{"offset":0.5972,"color":"#fff"},
{"offset":0.5972,"color":"#00f"},{"offset":0.6069,"color":"#00f"},{"offset":0.6069,"color":"#fff"},{"offset":0.6111,"color":"#fff"},
{"offset":0.6111,"color":"#00f"},{"offset":0.6208,"color":"#00f"},{"offset":0.6208,"color":"#fff"},{"offset":0.625,"color":"#fff"},
{"offset":0.625,"color":"#00f"},{"offset":0.6347,"color":"#00f"},{"offset":0.6347,"color":"#fff"},{"offset":0.6389,"color":"#fff"},
{"offset":0.6389,"color":"#00f"},{"offset":0.6486,"color":"#00f"},{"offset":0.6486,"color":"#fff"},{"offset":0.6528,"color":"#fff"},
{"offset":0.6528,"color":"#00f"},{"offset":0.6625,"color":"#00f"},{"offset":0.6625,"color":"#fff"},{"offset":0.6667,"color":"#fff"},
{"offset":0.6667,"color":"#00f"},{"offset":0.6764,"color":"#00f"},{"offset":0.6764,"color":"#fff"},{"offset":0.6806,"color":"#fff"},
{"offset":0.6806,"color":"#00f"},{"offset":0.6903,"color":"#00f"},{"offset":0.6903,"color":"#fff"},{"offset":0.6944,"color":"#fff"},
{"offset":0.6944,"color":"#00f"},{"offset":0.7042,"color":"#00f"},{"offset":0.7042,"color":"#fff"},{"offset":0.7083,"color":"#fff"},
{"offset":0.7083,"color":"#00f"},{"offset":0.7181,"color":"#00f"},{"offset":0.7181,"color":"#fff"},{"offset":0.7222,"color":"#fff"},
{"offset":0.7222,"color":"#00f"},{"offset":0.7319,"color":"#00f"},{"offset":0.7319,"color":"#fff"},{"offset":0.7361,"color":"#fff"},
{"offset":0.7361,"color":"#00f"},{"offset":0.7458,"color":"#00f"},{"offset":0.7458,"color":"#fff"},{"offset":0.75,"color":"#fff"},
{"offset":0.75,"color":"#00f"},{"offset":0.7597,"color":"#00f"},{"offset":0.7597,"color":"#fff"},{"offset":0.7639,"color":"#fff"},
{"offset":0.7639,"color":"#00f"},{"offset":0.7736,"color":"#00f"},{"offset":0.7736,"color":"#fff"},{"offset":0.7778,"color":"#fff"},
{"offset":0.7778,"color":"#00f"},{"offset":0.7875,"color":"#00f"},{"offset":0.7875,"color":"#fff"},{"offset":0.7917,"color":"#fff"},
{"offset":0.7917,"color":"#00f"},{"offset":0.8014,"color":"#00f"},{"offset":0.8014,"color":"#fff"},{"offset":0.8056,"color":"#fff"},
{"offset":0.8056,"color":"#00f"},{"offset":0.8153,"color":"#00f"},{"offset":0.8153,"color":"#fff"},{"offset":0.8194,"color":"#fff"},
{"offset":0.8194,"color":"#00f"},{"offset":0.8292,"color":"#00f"},{"offset":0.8292,"color":"#fff"},{"offset":0.8333,"color":"#fff"},
{"offset":0.8333,"color":"#00f"},{"offset":0.8431,"color":"#00f"},{"offset":0.8431,"color":"#fff"},{"offset":0.8472,"color":"#fff"},
{"offset":0.8472,"color":"#00f"},{"offset":0.8569,"color":"#00f"},{"offset":0.8569,"color":"#fff"},{"offset":0.8611,"color":"#fff"},
{"offset":0.8611,"color":"#00f"},{"offset":0.8708,"color":"#00f"},{"offset":0.8708,"color":"#fff"},{"offset":0.875,"color":"#fff"},
{"offset":0.875,"color":"#00f"},{"offset":0.8847,"color":"#00f"},{"offset":0.8847,"color":"#fff"},{"offset":0.8889,"color":"#fff"},
{"offset":0.8889,"color":"#00f"},{"offset":0.8986,"color":"#00f"},{"offset":0.8986,"color":"#fff"},{"offset":0.9028,"color":"#fff"},
{"offset":0.9028,"color":"#00f"},{"offset":0.9125,"color":"#00f"},{"offset":0.9125,"color":"#fff"},{"offset":0.9167,"color":"#fff"},
{"offset":0.9167,"color":"#00f"},{"offset":0.9264,"color":"#00f"},{"offset":0.9264,"color":"#fff"},{"offset":0.9306,"color":"#fff"},
{"offset":0.9306,"color":"#00f"},{"offset":0.9403,"color":"#00f"},{"offset":0.9403,"color":"#fff"},{"offset":0.9444,"color":"#fff"},
{"offset":0.9444,"color":"#00f"},{"offset":0.9542,"color":"#00f"},{"offset":0.9542,"color":"#fff"},{"offset":0.9583,"color":"#fff"},
{"offset":0.9583,"color":"#00f"},{"offset":0.9681,"color":"#00f"},{"offset":0.9681,"color":"#fff"},{"offset":0.9722,"color":"#fff"},
{"offset":0.9722,"color":"#00f"},{"offset":0.9819,"color":"#00f"},{"offset":0.9819,"color":"#fff"},{"offset":0.9861,"color":"#fff"},
{"offset":0.9861,"color":"#00f"},{"offset":0.9958,"color":"#00f"},{"offset":0.9958,"color":"#fff"},{"offset":1,"color":"#fff"}
]}}
}
}
}
